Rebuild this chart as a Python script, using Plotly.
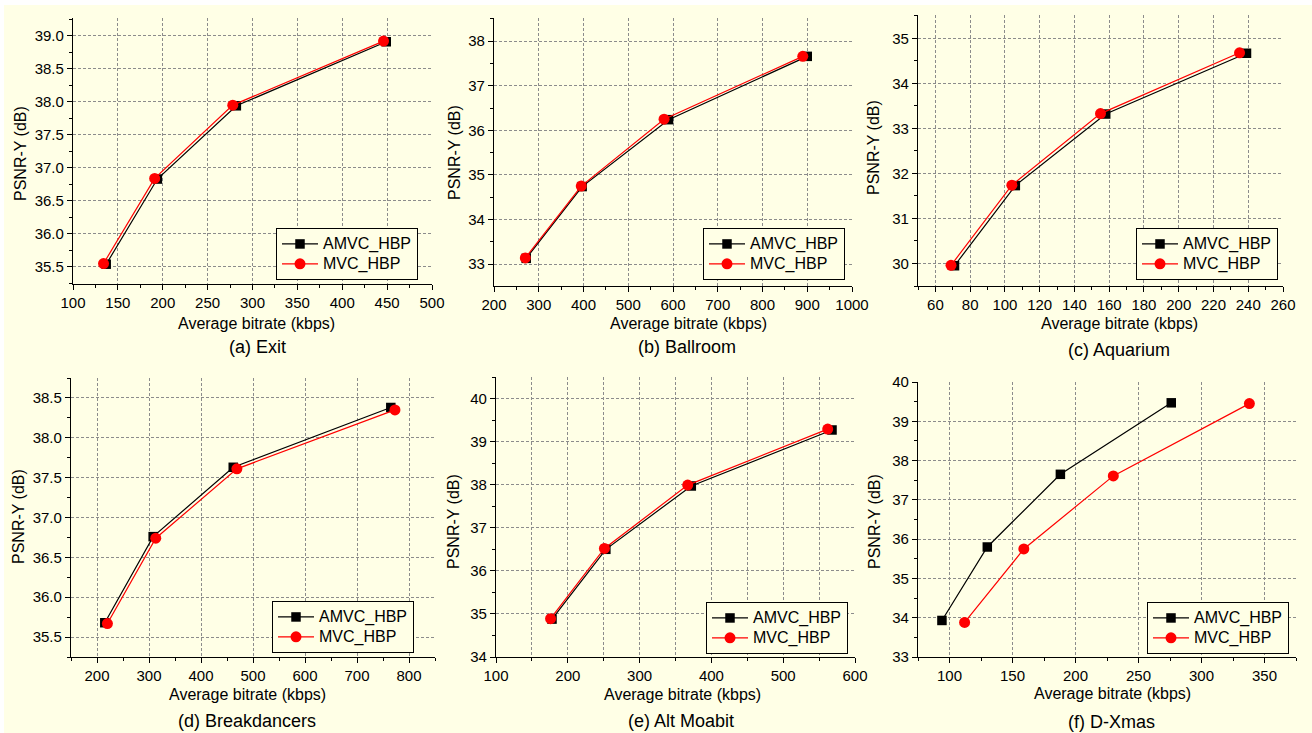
import plotly.graph_objects as go

W, H = 1312, 733

# ---------------- data ----------------
series_names = ["AMVC_HBP", "MVC_HBP"]
captions = ["(a) Exit", "(b) Ballroom", "(c) Aquarium",
            "(d) Breakdancers", "(e) Alt Moabit", "(f) D-Xmas"]

exit_amvc_x = [137, 194, 282, 449]
exit_amvc_y = [35.54, 36.83, 37.94, 38.91]
exit_mvc_x = [134, 191, 278, 446]
exit_mvc_y = [35.55, 36.84, 37.95, 38.92]

ballroom_amvc_x = [272, 397, 590, 900]
ballroom_amvc_y = [33.13, 34.74, 36.24, 37.66]
ballroom_mvc_x = [270, 395, 580, 890]
ballroom_mvc_y = [33.14, 34.75, 36.25, 37.66]

aquarium_amvc_x = [71, 106, 158, 239]
aquarium_amvc_y = [29.95, 31.73, 33.32, 34.67]
aquarium_mvc_x = [69, 104, 155, 235]
aquarium_mvc_y = [29.96, 31.74, 33.33, 34.68]

breakdancers_amvc_x = [215, 308, 462, 765]
breakdancers_amvc_y = [35.68, 36.76, 37.63, 38.38]
breakdancers_mvc_x = [220, 313, 469, 773]
breakdancers_mvc_y = [35.67, 36.74, 37.61, 38.35]

altmoabit_amvc_x = [178, 253, 372, 568]
altmoabit_amvc_y = [34.88, 36.50, 37.97, 39.27]
altmoabit_mvc_x = [176, 251, 367, 562]
altmoabit_mvc_y = [34.89, 36.52, 37.99, 39.29]

dxmas_amvc_x = [94, 130, 188, 276]
dxmas_amvc_y = [33.93, 35.80, 37.65, 39.47]
dxmas_mvc_x = [112, 159, 230, 338]
dxmas_mvc_y = [33.88, 35.75, 37.61, 39.45]

panel_data = [
    (exit_amvc_x, exit_amvc_y, exit_mvc_x, exit_mvc_y),
    (ballroom_amvc_x, ballroom_amvc_y, ballroom_mvc_x, ballroom_mvc_y),
    (aquarium_amvc_x, aquarium_amvc_y, aquarium_mvc_x, aquarium_mvc_y),
    (breakdancers_amvc_x, breakdancers_amvc_y, breakdancers_mvc_x, breakdancers_mvc_y),
    (altmoabit_amvc_x, altmoabit_amvc_y, altmoabit_mvc_x, altmoabit_mvc_y),
    (dxmas_amvc_x, dxmas_amvc_y, dxmas_mvc_x, dxmas_mvc_y),
]

# ---------------- layout settings (pixels) ----------------
# axes boxes: x0, x1, ytop, ybottom
boxes = [
    (73, 432, 18, 284),
    (494, 852, 18, 286),
    (918, 1283, 15, 286),
    (71, 435, 378, 657),
    (496, 855, 377, 657),
    (918, 1296, 382, 657),
]
xranges = [[100, 500], [200, 1000], [50, 260], [150, 850], [100, 600], [75, 375]]
yranges = [[35.24, 39.27], [32.51, 38.52], [29.5, 35.52], [35.25, 38.75], [34, 40.5], [33, 40]]
xdt = [(50, 25), (100, 50), (20, 10), (100, 50), (100, 50), (50, 25)]
ydt = [(0.5, 0.25), (1, 0.5), (1, 0.5), (0.5, 0.25), (1, 0.5), (1, 0.5)]
yfmt = [".1f", "d", "d", ".1f", "d", "d"]
xminorgrid = [False, False, False, False, True, False]
legend_pos = [(276, 228), (703, 228), (1136, 228), (272, 601), (706, 602), (1147, 602)]
xtitle_pos = [(256, 323), (688, 323), (1119, 323), (247, 694), (682, 694), (1112, 693)]
ytitle_pos = [(20, 154), (454, 152), (873, 148), (18, 517), (453, 522), (874, 522)]
caption_pos = [(257, 347), (687, 347), (1119, 350), (247, 721), (681, 721), (1111, 722)]

BG = "#FFFFE6"
FONT = "Liberation Sans, Arial, sans-serif"
GRID = "#8c8c8c"

def px(x):
    return x / W

def py(y):
    return 1 - y / H

fig = go.Figure()
layout = dict(
    width=W, height=H,
    margin=dict(l=0, r=0, t=0, b=0, autoexpand=False),
    paper_bgcolor="white",
    plot_bgcolor=BG,
    font=dict(family=FONT, color="black", size=15),
    showlegend=True,
    shapes=[dict(type="rect", xref="paper", yref="paper",
                 x0=px(4), x1=1, y0=0, y1=py(5),
                 fillcolor=BG, line=dict(width=0), layer="below")],
    annotations=[],
)

for i in range(6):
    n = i + 1
    xa = "x" if n == 1 else f"x{n}"
    ya = "y" if n == 1 else f"y{n}"
    lg = "legend" if n == 1 else f"legend{n}"
    ax_x, ay_y, mx, my = panel_data[i]
    fig.add_trace(go.Scatter(
        x=ax_x, y=ay_y,
        name='<span style="font-size:16px">%s</span>' % series_names[0],
        mode="lines+markers",
        line=dict(color="black", width=1.2),
        marker=dict(symbol="square", size=9.5, color="black"),
        xaxis=xa, yaxis=ya, legend=lg))
    fig.add_trace(go.Scatter(
        x=mx, y=my,
        name='<span style="font-size:16px">%s</span>' % series_names[1],
        mode="lines+markers",
        line=dict(color="#FF0000", width=1.2),
        marker=dict(symbol="circle", size=11, color="#FF0000"),
        xaxis=xa, yaxis=ya, legend=lg))

    x0, x1, yt, yb = boxes[i]
    common = dict(
        showline=True, linecolor="black", linewidth=1.3, mirror=False,
        ticks="outside", ticklen=5, tickwidth=1, tickcolor="black",
        showgrid=True, gridcolor=GRID, gridwidth=1, griddash="3px,2px",
        zeroline=False, tickfont=dict(size=15, family=FONT, color="black"),
    )
    layout["xaxis" if n == 1 else f"xaxis{n}"] = dict(
        common, domain=[px(x0), px(x1)], range=xranges[i],
        anchor=ya, dtick=xdt[i][0], tick0=0,
        minor=dict(dtick=xdt[i][1], tick0=0, ticks="outside", ticklen=3,
                   tickcolor="black", showgrid=xminorgrid[i],
                   gridcolor=GRID, griddash="3px,2px", gridwidth=1),
    )
    layout["yaxis" if n == 1 else f"yaxis{n}"] = dict(
        common, domain=[py(yb), py(yt)], range=yranges[i],
        anchor=xa, dtick=ydt[i][0], tick0=0, tickformat=yfmt[i],
        minor=dict(dtick=ydt[i][1], tick0=0, ticks="outside", ticklen=3,
                   tickcolor="black", showgrid=False),
    )
    lx, ly = legend_pos[i]
    layout[lg] = dict(
        x=px(lx), y=py(ly), xanchor="left", yanchor="top",
        xref="paper", yref="paper",
        bgcolor=BG, bordercolor="black", borderwidth=1,
        font=dict(size=13, family=FONT, color="black"),
        tracegroupgap=0, itemwidth=36,
    )
    tx, ty = xtitle_pos[i]
    layout["annotations"].append(dict(
        text="Average bitrate (kbps)", x=px(tx), y=py(ty), xref="paper", yref="paper",
        xanchor="center", yanchor="middle", showarrow=False,
        font=dict(size=16, family=FONT, color="black")))
    yx, yy = ytitle_pos[i]
    layout["annotations"].append(dict(
        text="PSNR-Y (dB)", x=px(yx), y=py(yy), xref="paper", yref="paper",
        xanchor="center", yanchor="middle", showarrow=False, textangle=-90,
        font=dict(size=16, family=FONT, color="black")))
    cx, cy = caption_pos[i]
    layout["annotations"].append(dict(
        text=captions[i], x=px(cx), y=py(cy), xref="paper", yref="paper",
        xanchor="center", yanchor="middle", showarrow=False,
        font=dict(size=18, family=FONT, color="black")))

fig.update_layout(**layout)
fig.write_html("out.html", config={"displayModeBar": False})

# remove the browser's default page margin so the figure fills the window exactly
with open("out.html", "r", encoding="utf-8") as f:
    html = f.read()
html = html.replace("<head>", "<head><style>html,body{margin:0;padding:0;overflow:hidden;}</style>", 1)
with open("out.html", "w", encoding="utf-8") as f:
    f.write(html)
